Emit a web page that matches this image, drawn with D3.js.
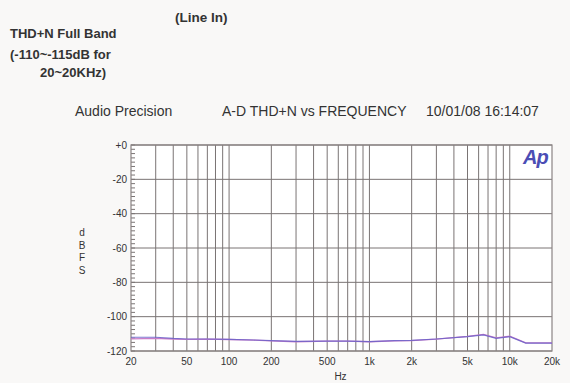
<!DOCTYPE html>
<html>
<head>
<meta charset="utf-8">
<script src="https://cdn.jsdelivr.net/npm/d3@7"></script>
<style>
  html, body { margin: 0; padding: 0; background: #f9f8f7; }
  svg { display: block; font-family: "Liberation Sans", Arial, sans-serif; }
</style>
</head>
<body>
<svg id="chart" width="570" height="383"></svg>
<script>
// ---- data ----
const freqs = [20, 30, 40, 50, 70, 100, 150, 200, 300, 500, 700, 1000, 1500, 2000, 3000, 5000, 6500, 8000, 10000, 13000, 20000];
const blueSeries = [-112.0, -112.0, -112.7, -113.0, -113.0, -113.2, -113.6, -114.0, -114.4, -114.2, -114.2, -114.5, -114.0, -113.8, -113.0, -111.6, -110.6, -112.6, -111.6, -115.4, -115.4];
const pinkSeries = [-112.9, -112.6, -113.0, -113.2, -113.1, -113.3, -113.7, -114.1, -114.6, -114.3, -114.3, -114.6, -114.1, -113.9, -113.1, -111.5, -110.3, -112.4, -111.4, -115.3, -115.3];
const yTicks = [0, -20, -40, -60, -80, -100, -120];
const yTickLabels = ["+0", "-20", "-40", "-60", "-80", "-100", "-120"];
const xTickValues = [20, 50, 100, 200, 500, 1000, 2000, 5000, 10000, 20000];
const xTickLabels = ["20", "50", "100", "200", "500", "1k", "2k", "5k", "10k", "20k"];
const gridFreqs = [30, 40, 50, 60, 70, 80, 90, 100, 200, 300, 400, 500, 600, 700, 800, 900, 1000, 2000, 3000, 4000, 5000, 6000, 7000, 8000, 9000, 10000];
const yMinor = d3.range(0, -120.01, -2.5);

(function () {
const svg = d3.select("#chart");
const pL = 131, pR = 552, pT = 145, pB = 351;

const x = d3.scaleLog().domain([20, 20000]).range([pL, pR]);
const y = d3.scaleLinear().domain([-120, 0]).range([pB, pT]);

const gridColor = "#7a7474";

svg.append("rect").attr("x", pL).attr("y", pT).attr("width", pR - pL).attr("height", pB - pT)
  .attr("fill", "#ffffff");

svg.append("g").selectAll("line").data(gridFreqs).join("line")
  .attr("x1", d => x(d)).attr("x2", d => x(d))
  .attr("y1", pT).attr("y2", pB)
  .attr("stroke", gridColor).attr("stroke-width", 1);

svg.append("g").selectAll("line").data(yTicks).join("line")
  .attr("x1", pL).attr("x2", pR)
  .attr("y1", d => y(d)).attr("y2", d => y(d))
  .attr("stroke", gridColor).attr("stroke-width", 1);

svg.append("g").selectAll("line").data(yMinor).join("line")
  .attr("x1", pL).attr("x2", pL + 4)
  .attr("y1", d => y(d)).attr("y2", d => y(d))
  .attr("stroke", gridColor).attr("stroke-width", 1);

svg.append("rect").attr("x", pL).attr("y", pT).attr("width", pR - pL).attr("height", pB - pT)
  .attr("fill", "none").attr("stroke", "#8a8484").attr("stroke-width", 1.2);

svg.append("g").selectAll("text").data(yTicks).join("text")
  .attr("x", pL - 4).attr("y", d => y(d) + 3.5)
  .attr("text-anchor", "end").attr("font-size", 10).attr("fill", "#333")
  .text((d, i) => yTickLabels[i]);

svg.append("g").selectAll("text").data(xTickValues).join("text")
  .attr("x", d => x(d)).attr("y", 365)
  .attr("text-anchor", "middle").attr("font-size", 10).attr("fill", "#333")
  .text((d, i) => xTickLabels[i]);

svg.append("text").attr("x", x(Math.sqrt(20 * 20000)) - 1).attr("y", 380)
  .attr("text-anchor", "middle").attr("font-size", 10).attr("fill", "#333").text("Hz");
["d", "B", "F", "S"].forEach((c, i) => {
  svg.append("text").attr("x", 82).attr("y", 236 + i * 12.5)
    .attr("text-anchor", "middle").attr("font-size", 10).attr("fill", "#333").text(c);
});

const line = d3.line().x(d => x(d[0])).y(d => y(d[1]));
svg.append("path").datum(freqs.map((f, i) => [f, pinkSeries[i]]))
  .attr("d", line).attr("fill", "none").attr("stroke", "#c97ec9").attr("stroke-width", 1.3);
svg.append("path").datum(freqs.map((f, i) => [f, blueSeries[i]]))
  .attr("d", line).attr("fill", "none").attr("stroke", "#6a60c8").attr("stroke-width", 1.2).attr("opacity", 0.85);

svg.append("text").attr("x", 523).attr("y", 164)
  .attr("font-size", 20).attr("font-weight", "bold").attr("font-style", "italic")
  .attr("fill", "#4b4db5").attr("letter-spacing", -1).text("Ap");

svg.append("text").attr("x", 75).attr("y", 116).attr("font-size", 14).attr("fill", "#333").text("Audio Precision");
svg.append("text").attr("x", 222).attr("y", 116).attr("font-size", 14).attr("fill", "#333").text("A-D THD+N vs FREQUENCY");
svg.append("text").attr("x", 426).attr("y", 116).attr("font-size", 14).attr("fill", "#333").text("10/01/08 16:14:07");

svg.append("text").attr("x", 175).attr("y", 22).attr("font-size", 13.5).attr("font-weight", "bold").attr("fill", "#333").text("(Line In)");
svg.append("text").attr("x", 10).attr("y", 38).attr("font-size", 13).attr("font-weight", "bold").attr("fill", "#333").text("THD+N Full Band");
svg.append("text").attr("x", 10).attr("y", 59).attr("font-size", 13).attr("font-weight", "bold").attr("fill", "#333").text("(-110~-115dB for");
svg.append("text").attr("x", 40).attr("y", 77).attr("font-size", 13).attr("font-weight", "bold").attr("fill", "#333").text("20~20KHz)");
})();
</script>
</body>
</html>
